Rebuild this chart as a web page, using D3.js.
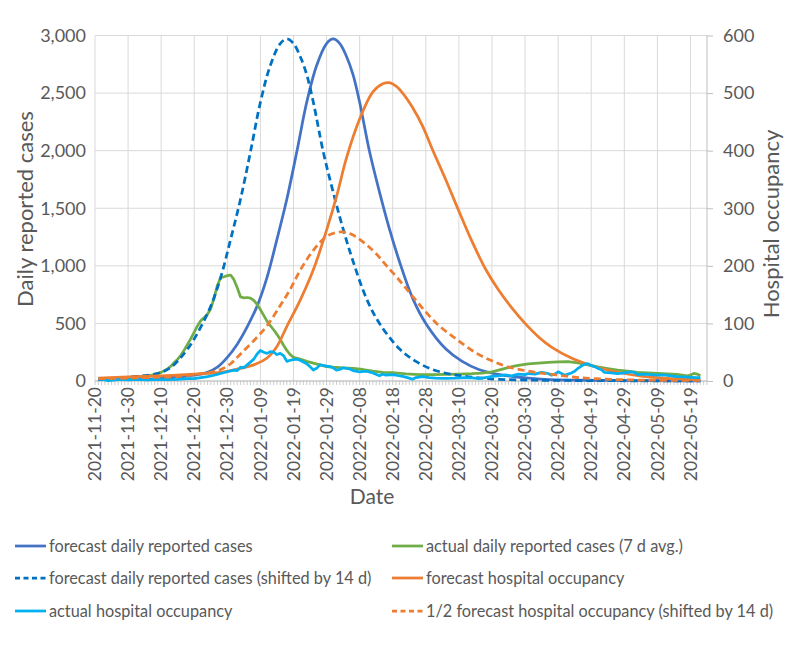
<!DOCTYPE html>
<html>
<head>
<meta charset="utf-8">
<script src="https://cdn.jsdelivr.net/npm/d3@7"></script>
<style>
  html, body { margin: 0; padding: 0; background: #ffffff; }
  svg { display: block; }
  text { font-family: Lato, "Open Sans", sans-serif; fill: #595959; }
</style>
</head>
<body>
<svg id="chart" width="792" height="648"></svg>
<script>
// ---------------- DATA ----------------
const xTickLabels = ["2021-11-20","2021-11-30","2021-12-10","2021-12-20","2021-12-30","2022-01-09",
  "2022-01-19","2022-01-29","2022-02-08","2022-02-18","2022-02-28","2022-03-10","2022-03-20",
  "2022-03-30","2022-04-09","2022-04-19","2022-04-29","2022-05-09","2022-05-19"];
const leftTicks = [0, 500, 1000, 1500, 2000, 2500, 3000];
const rightTicks = [0, 100, 200, 300, 400, 500, 600];

// forecast daily reported cases (left axis)
const forecastCasesDates = ["2021-11-21","2021-11-30","2021-12-06","2021-12-10","2021-12-15","2021-12-20","2021-12-24",
  "2021-12-27","2021-12-30","2022-01-02","2022-01-05","2022-01-08","2022-01-11","2022-01-14","2022-01-17","2022-01-20",
  "2022-01-23","2022-01-26","2022-01-29","2022-01-31","2022-02-02","2022-02-04","2022-02-06","2022-02-08","2022-02-11",
  "2022-02-14","2022-02-17","2022-02-20","2022-02-24","2022-02-28","2022-03-06","2022-03-11","2022-03-16","2022-03-21",
  "2022-03-26","2022-03-31","2022-04-05","2022-04-14","2022-04-24","2022-05-04","2022-05-14","2022-05-22"];
const forecastCasesValues = [12,14,16,22,35,50,75,120,205,320,470,650,900,1230,1580,1990,2420,2740,2930,2970,2930,
  2820,2660,2420,1990,1640,1320,1040,720,500,280,170,100,62,40,25,15,8,5,3,2,1];

// forecast daily reported cases shifted by 14 d (left axis)
const shiftedCasesDates = ["2021-11-21","2021-11-26","2021-12-01","2021-12-06","2021-12-10","2021-12-13","2021-12-16",
  "2021-12-19","2021-12-22","2021-12-25","2021-12-28","2021-12-31","2022-01-03","2022-01-06","2022-01-09","2022-01-12",
  "2022-01-15","2022-01-17","2022-01-19","2022-01-21","2022-01-23","2022-01-25","2022-01-28","2022-01-31","2022-02-03",
  "2022-02-06","2022-02-10","2022-02-14","2022-02-20","2022-02-25","2022-03-02","2022-03-07","2022-03-12","2022-03-17",
  "2022-03-22","2022-03-31","2022-04-10","2022-04-20","2022-04-30","2022-05-08","2022-05-22"];
const shiftedCasesValues = [15,20,35,50,75,120,205,320,470,650,900,1230,1580,1990,2420,2740,2930,2970,2930,2820,
  2660,2420,1990,1640,1320,1040,720,500,280,170,100,62,40,25,15,8,5,3,2,1,1];

// actual daily reported cases, 7 d avg. (left axis)
const actualCasesDates = ["2021-11-21","2021-11-24","2021-11-27","2021-11-30","2021-12-03","2021-12-06","2021-12-08",
  "2021-12-10","2021-12-11","2021-12-12","2021-12-13","2021-12-14","2021-12-15","2021-12-16","2021-12-17","2021-12-18",
  "2021-12-19","2021-12-20","2021-12-21","2021-12-22","2021-12-23","2021-12-24","2021-12-25","2021-12-26","2021-12-27",
  "2021-12-28","2021-12-29","2021-12-30","2021-12-31","2022-01-01","2022-01-02","2022-01-03","2022-01-04","2022-01-05",
  "2022-01-06","2022-01-07","2022-01-08","2022-01-09","2022-01-10","2022-01-11","2022-01-12","2022-01-13","2022-01-14",
  "2022-01-15","2022-01-16","2022-01-17","2022-01-18","2022-01-19","2022-01-21","2022-01-23","2022-01-25","2022-01-27",
  "2022-01-29","2022-01-31","2022-02-03","2022-02-06","2022-02-09","2022-02-12","2022-02-15","2022-02-18","2022-02-22",
  "2022-02-26","2022-03-02","2022-03-06","2022-03-10","2022-03-14","2022-03-17","2022-03-20","2022-03-22","2022-03-24",
  "2022-03-26","2022-03-28","2022-03-31","2022-04-03","2022-04-06","2022-04-09","2022-04-12","2022-04-15","2022-04-18",
  "2022-04-21","2022-04-24","2022-04-27","2022-04-30","2022-05-03","2022-05-06","2022-05-09","2022-05-12","2022-05-15",
  "2022-05-17","2022-05-18","2022-05-19","2022-05-20","2022-05-21","2022-05-22"];
const actualCasesValues = [17,20,25,30,37,45,55,75,90,108,130,160,190,225,270,320,370,425,480,525,550,580,630,720,830,
  900,905,915,920,880,810,730,722,725,720,700,665,620,570,520,480,445,405,360,310,265,230,205,190,170,155,140,125,120,
  115,110,100,85,75,72,62,55,55,58,60,63,68,80,95,110,125,135,148,155,162,167,168,158,140,122,108,95,85,75,70,66,62,58,
  50,45,52,66,60,45];

// forecast hospital occupancy (right axis)
const forecastHospDates = ["2021-11-21","2021-11-30","2021-12-10","2021-12-20","2021-12-28","2022-01-03","2022-01-07",
  "2022-01-11","2022-01-14","2022-01-17","2022-01-21","2022-01-25","2022-01-29","2022-02-01","2022-02-04","2022-02-08",
  "2022-02-12","2022-02-15","2022-02-17","2022-02-19","2022-02-21","2022-02-24","2022-02-27","2022-03-02","2022-03-06",
  "2022-03-10","2022-03-14","2022-03-18","2022-03-22","2022-03-26","2022-03-30","2022-04-03","2022-04-07","2022-04-13",
  "2022-04-19","2022-04-24","2022-04-29","2022-05-04","2022-05-11","2022-05-22"];
const forecastHospValues = [5,7,9,12,15,22,28,40,60,95,140,193,262,320,387,455,502,516,518,512,500,475,443,402,350,
  295,242,195,158,127,100,77,59,40,27,19,13,8.5,5,2];

// actual hospital occupancy (right axis)
const actualHospDates = ["2021-11-21","2021-11-23","2021-11-24","2021-11-25","2021-11-26","2021-11-28","2021-11-30",
  "2021-12-03","2021-12-06","2021-12-09","2021-12-12","2021-12-15","2021-12-18","2021-12-20","2021-12-22","2021-12-24",
  "2021-12-26","2021-12-28","2021-12-30","2022-01-01","2022-01-02","2022-01-03","2022-01-04","2022-01-05","2022-01-06",
  "2022-01-07","2022-01-08","2022-01-09","2022-01-10","2022-01-11","2022-01-12","2022-01-13","2022-01-14","2022-01-15",
  "2022-01-16","2022-01-17","2022-01-18","2022-01-19","2022-01-20","2022-01-21","2022-01-22","2022-01-23","2022-01-24",
  "2022-01-25","2022-01-26","2022-01-27","2022-01-28","2022-01-29","2022-01-30","2022-01-31","2022-02-01","2022-02-02",
  "2022-02-03","2022-02-04","2022-02-05","2022-02-06","2022-02-08","2022-02-10","2022-02-12","2022-02-14","2022-02-15",
  "2022-02-16","2022-02-18","2022-02-19","2022-02-21","2022-02-23","2022-02-24","2022-02-25","2022-02-27","2022-03-01",
  "2022-03-03","2022-03-06","2022-03-09","2022-03-12","2022-03-14","2022-03-16","2022-03-18","2022-03-20","2022-03-22",
  "2022-03-24","2022-03-26","2022-03-28","2022-03-30","2022-03-31","2022-04-02","2022-04-04","2022-04-05","2022-04-06",
  "2022-04-07","2022-04-08","2022-04-09","2022-04-10","2022-04-11","2022-04-12","2022-04-13","2022-04-14","2022-04-15",
  "2022-04-16","2022-04-17","2022-04-18","2022-04-19","2022-04-20","2022-04-21","2022-04-22","2022-04-23","2022-04-25",
  "2022-04-27","2022-04-29","2022-05-01","2022-05-02","2022-05-03","2022-05-05","2022-05-07","2022-05-09","2022-05-11",
  "2022-05-13","2022-05-15","2022-05-17","2022-05-19","2022-05-21","2022-05-22"];
const actualHospValues = [3.5,2,0.5,1,2,3,2,3,2,3,2.5,3,4,4,6,7.5,10,13,16,19,18,24,23,28,33,38,47,53,50,48,51,50,46,
  48,44,34,36,37,38,36,33,30,25,19,22,28,27,26,25,23,19,20,23,22,21,18,16,17,14,9,12,10,11,10,8,5,3,6,7.5,6,5,4.5,5,6,
  5.5,4,6,8,9,10.5,9,12,11,13,12,15,14,13,10,12,16,13,10,12,14,17,22,26,29,30,27,25,22,20,15,14,13,14,16,15,11,12,11,
  10,10.5,9,7.5,7,6.5,6,6];

// 1/2 forecast hospital occupancy shifted by 14 d (right axis)
const halfHospDates = ["2021-11-21","2021-11-30","2021-12-06","2021-12-14","2021-12-20","2021-12-24","2021-12-28",
  "2021-12-31","2022-01-03","2022-01-07","2022-01-11","2022-01-15","2022-01-18","2022-01-21","2022-01-25","2022-01-29",
  "2022-02-01","2022-02-03","2022-02-05","2022-02-07","2022-02-10","2022-02-13","2022-02-16","2022-02-20","2022-02-24",
  "2022-02-28","2022-03-04","2022-03-08","2022-03-12","2022-03-16","2022-03-20","2022-03-24","2022-03-30","2022-04-05",
  "2022-04-10","2022-04-15","2022-04-20","2022-04-27","2022-05-05","2022-05-22"];
const halfHospValues = [4,5,6,7.5,11,14,20,30,47,70,96,131,159,192,227,251,258,259,256,250,237,221,201,175,147,120,96,
  78,61,46,35,26,18,13,9.5,6,4,2.5,1.5,1];

// ---------------- CHART ----------------
const parse = d3.utcParse("%Y-%m-%d");
const svg = d3.select("#chart");
svg.append("rect").attr("width", 792).attr("height", 648).attr("fill", "#fff");

const L = 95, R = 707, T = 35.5, B = 381;
const x = d3.scaleUtc().domain([parse("2021-11-20"), parse("2022-05-24")]).range([L, R]);
const yL = d3.scaleLinear().domain([0, 3000]).range([B, T]);
const yR = d3.scaleLinear().domain([0, 600]).range([B, T]);

// horizontal grid
svg.append("g").selectAll("line").data(leftTicks).join("line")
  .attr("x1", L).attr("x2", R).attr("y1", d => yL(d)).attr("y2", d => yL(d))
  .attr("stroke", "#d9d9d9").attr("stroke-width", 1);
// vertical grid
svg.append("g").selectAll("line").data(xTickLabels).join("line")
  .attr("x1", d => x(parse(d))).attr("x2", d => x(parse(d))).attr("y1", T).attr("y2", B)
  .attr("stroke", "#d9d9d9").attr("stroke-width", 1);

// bottom axis line and daily minor ticks
const days = d3.utcDay.range(parse("2021-11-20"), parse("2022-05-25"));
svg.append("g").selectAll("line").data(days).join("line")
  .attr("x1", d => x(d)).attr("x2", d => x(d)).attr("y1", B).attr("y2", B + 4)
  .attr("stroke", "#bfbfbf").attr("stroke-width", 0.8);
svg.append("line").attr("x1", L).attr("x2", R).attr("y1", B).attr("y2", B)
  .attr("stroke", "#bfbfbf").attr("stroke-width", 1);
// right axis line
svg.append("line").attr("x1", R).attr("x2", R).attr("y1", T).attr("y2", B)
  .attr("stroke", "#bfbfbf").attr("stroke-width", 1);

// left axis
const gL = svg.append("g").attr("transform", `translate(${L},0)`)
  .call(d3.axisLeft(yL).tickValues(leftTicks).tickFormat(d3.format(",")).tickSize(0).tickPadding(9));
gL.select(".domain").remove();
gL.selectAll("text").attr("font-size", 18).attr("fill", "#595959").attr("font-family", "Lato, sans-serif");

// right axis
const gR = svg.append("g").attr("transform", `translate(${R},0)`)
  .call(d3.axisRight(yR).tickValues(rightTicks).tickSize(6).tickPadding(10));
gR.select(".domain").remove();
gR.selectAll("line").attr("stroke", "#bfbfbf");
gR.selectAll("text").attr("font-size", 18).attr("fill", "#595959").attr("font-family", "Lato, sans-serif");

// x tick labels (rotated)
svg.append("g").selectAll("text").data(xTickLabels).join("text")
  .attr("transform", d => `translate(${x(parse(d))},387) rotate(-90)`)
  .attr("text-anchor", "end").attr("dy", "0.35em")
  .attr("font-size", 17.5).text(d => d);

// axis titles
svg.append("text").attr("transform", "translate(33,209) rotate(-90)")
  .attr("text-anchor", "middle").attr("font-size", 22).text("Daily reported cases");
svg.append("text").attr("transform", "translate(779,224) rotate(-90)")
  .attr("text-anchor", "middle").attr("font-size", 22).text("Hospital occupancy");
svg.append("text").attr("x", 372).attr("y", 504)
  .attr("text-anchor", "middle").attr("font-size", 21).text("Date");

// series
function mk(dates, values) { return dates.map((d, i) => ({ date: parse(d), v: values[i] })); }
const series = [
  { name: "forecast daily reported cases", data: mk(forecastCasesDates, forecastCasesValues), y: yL, color: "#4472C4", dash: null, smooth: true },
  { name: "actual daily reported cases (7 d avg.)", data: mk(actualCasesDates, actualCasesValues), y: yL, color: "#70AD47", dash: null, smooth: false },
  { name: "forecast daily reported cases (shifted by 14 d)", data: mk(shiftedCasesDates, shiftedCasesValues), y: yL, color: "#0070C0", dash: "7,4", smooth: true },
  { name: "forecast hospital occupancy", data: mk(forecastHospDates, forecastHospValues), y: yR, color: "#ED7D31", dash: null, smooth: true },
  { name: "actual hospital occupancy", data: mk(actualHospDates, actualHospValues), y: yR, color: "#00B0F0", dash: null, smooth: false },
  { name: "1/2 forecast hospital occupancy (shifted by 14 d)", data: mk(halfHospDates, halfHospValues), y: yR, color: "#ED7D31", dash: "7,4", smooth: true }
];

series.forEach(s => {
  const line = d3.line().x(d => x(d.date)).y(d => s.y(d.v))
    .curve(s.smooth ? d3.curveCatmullRom.alpha(0.5) : d3.curveLinear);
  svg.append("path").datum(s.data).attr("d", line)
    .attr("fill", "none").attr("stroke", s.color).attr("stroke-width", 2.75)
    .attr("stroke-linejoin", "round")
    .attr("stroke-dasharray", s.dash);
});

// legend
const legendPos = [[15, 546], [392, 546], [15, 578], [392, 578], [15, 611], [392, 611]];
series.forEach((s, i) => {
  const [lx, ly] = legendPos[i];
  svg.append("line").attr("x1", lx).attr("x2", lx + 31).attr("y1", ly).attr("y2", ly)
    .attr("stroke", s.color).attr("stroke-width", 2.75)
    .attr("stroke-dasharray", s.dash ? "5,3.5" : null);
  svg.append("text").attr("x", lx + 34).attr("y", ly).attr("dy", "0.35em")
    .attr("font-size", 16.3).text(s.name);
});
</script>
</body>
</html>
